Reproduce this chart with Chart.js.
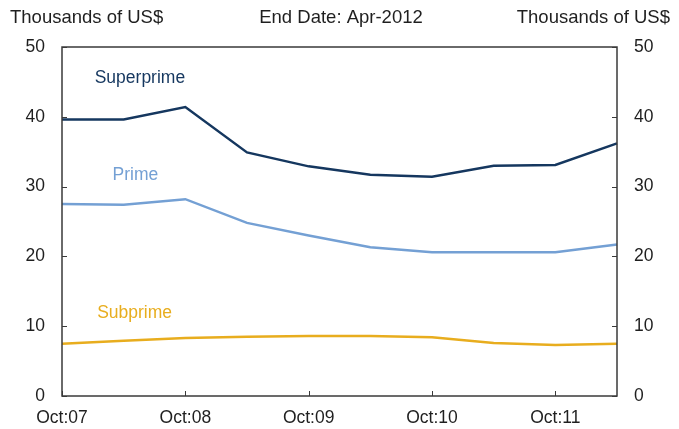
<!DOCTYPE html>
<html>
<head>
<meta charset="utf-8">
<script src="https://cdn.jsdelivr.net/npm/chart.js@4"></script>
<style>
  html, body { margin: 0; padding: 0; background: #fff; }
  #wrap { width: 679px; height: 429px; position: relative; }
</style>
</head>
<body>
<div id="wrap"><canvas id="chart"></canvas></div>
<script>
// half-yearly observations, Oct 2007 .. Apr 2012
const periods = ['Oct:07', 'Apr:08', 'Oct:08', 'Apr:09', 'Oct:09', 'Apr:10', 'Oct:10', 'Apr:11', 'Oct:11', 'Apr:12'];
const superprime = [39.6, 39.6, 41.4, 34.9, 32.9, 31.7, 31.4, 33.0, 33.1, 36.2];
const prime      = [27.5, 27.4, 28.2, 24.8, 23.0, 21.3, 20.6, 20.6, 20.6, 21.7];
const subprime   = [7.5, 7.9, 8.3, 8.5, 8.6, 8.6, 8.4, 7.6, 7.3, 7.5];
const yTicks = [0, 10, 20, 30, 40, 50];

const FONT = 'Liberation Sans, Arial, sans-serif';
const TEXT = '#1f1f1f';
const COLORS = { superprime: '#15375f', prime: '#74a0d4', subprime: '#e8ad1e' };

// series names written inside the plot, placed in data coordinates
const seriesLabels = [
  { text: 'Superprime', x: 0.53, y: 45.6, color: COLORS.superprime },
  { text: 'Prime', x: 0.82, y: 31.7, color: COLORS.prime },
  { text: 'Subprime', x: 0.57, y: 11.9, color: COLORS.subprime }
];

const frame = {
  id: 'frame',
  afterDraw(chart) {
    const ctx = chart.ctx;
    const a = chart.chartArea;
    const xs = chart.scales.x, ys = chart.scales.y;
    ctx.save();
    // box
    ctx.strokeStyle = '#3a3a3a';
    ctx.lineWidth = 1.5;
    ctx.strokeRect(a.left, a.top, a.right - a.left, a.bottom - a.top);
    // inward ticks
    ctx.lineWidth = 1;
    ctx.beginPath();
    yTicks.forEach(v => {
      const py = Math.round(ys.getPixelForValue(v)) + 0.5;
      ctx.moveTo(a.left, py); ctx.lineTo(a.left + 5, py);
      ctx.moveTo(a.right, py); ctx.lineTo(a.right - 5, py);
    });
    periods.forEach((p, i) => {
      if (!p.startsWith('Oct')) return;
      const px = Math.round(xs.getPixelForValue(i)) + 0.5;
      ctx.moveTo(px, a.bottom); ctx.lineTo(px, a.bottom - 5);
    });
    ctx.stroke();
    // series names
    ctx.font = '17.5px ' + FONT;
    ctx.textBaseline = 'middle';
    ctx.textAlign = 'left';
    seriesLabels.forEach(l => {
      ctx.fillStyle = l.color;
      ctx.fillText(l.text, xs.getPixelForValue(l.x), ys.getPixelForValue(l.y));
    });
    // headings
    ctx.font = '18.5px ' + FONT;
    ctx.fillStyle = TEXT;
    ctx.fillText('Thousands of US$', 10, 18);
    ctx.textAlign = 'center';
    ctx.fillText('End Date: Apr-2012', 341, 18);
    ctx.textAlign = 'right';
    ctx.fillText('Thousands of US$', 670, 18);
    ctx.restore();
  }
};

const yAxis = (position) => ({
  type: 'linear',
  position: position,
  min: 0,
  max: 50,
  grid: { display: false, drawTicks: false },
  border: { display: false },
  ticks: { stepSize: 10, padding: 17, color: TEXT, font: { family: FONT, size: 17.5 } },
  afterFit: (s) => { s.width = 62; }
});

const line = (data, color) => ({
  data: data,
  borderColor: color,
  borderWidth: 2.5,
  pointRadius: 0,
  tension: 0,
  fill: false
});

new Chart(document.getElementById('chart'), {
  type: 'line',
  data: {
    labels: periods,
    datasets: [
      line(superprime, COLORS.superprime),
      line(prime, COLORS.prime),
      line(subprime, COLORS.subprime)
    ]
  },
  options: {
    responsive: true,
    maintainAspectRatio: false,
    animation: false,
    layout: { padding: { top: 47, left: 0, right: 0, bottom: 0 } },
    plugins: { legend: { display: false }, tooltip: { enabled: false } },
    scales: {
      x: {
        type: 'category',
        offset: false,
        grid: { display: false, drawTicks: false },
        border: { display: false },
        ticks: {
          autoSkip: false,
          maxRotation: 0,
          padding: 12,
          color: TEXT,
          font: { family: FONT, size: 17.5 },
          callback: function (v, i) { return periods[i].startsWith('Oct') ? periods[i] : ''; }
        },
        afterFit: (s) => { s.height = 33; }
      },
      y: yAxis('left'),
      y2: yAxis('right')
    }
  },
  plugins: [frame]
});
</script>
</body>
</html>
